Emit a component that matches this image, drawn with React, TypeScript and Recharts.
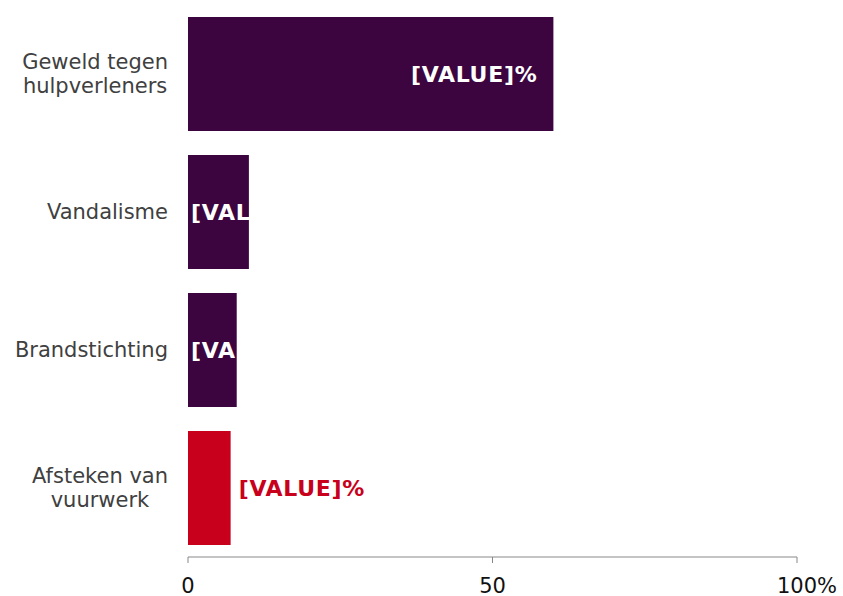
import React from 'react'
import { BarChart, Bar, XAxis, YAxis, Cell, LabelList } from 'recharts'

const categories = ['Geweld tegen hulpverleners', 'Vandalisme', 'Brandstichting', 'Afsteken van vuurwerk']
const values = [60, 10, 8, 7]
const valueLabels = ['[VALUE]%', '[VALUE]%', '[VALUE]%', '[VALUE]%']
const highlighted = [false, false, false, true]
const xTicks = [0, 50, 100]

const FONT = "'DejaVu Sans', Verdana, sans-serif"
const PURPLE = '#3d053f'
const RED = '#c8001b'

const data = categories.map((name, i) => ({
  name,
  value: values[i],
  label: valueLabels[i],
  hl: highlighted[i],
}))

let ctx: CanvasRenderingContext2D | null = null
function measure(text: string, font: string) {
  if (!ctx) ctx = document.createElement('canvas').getContext('2d')
  if (!ctx) return text.length * 10
  ctx.font = font
  return ctx.measureText(text).width
}

function wrap(text: string, max = 13) {
  const words = text.split(' ')
  const lines: string[] = []
  let cur = ''
  words.forEach((w) => {
    if (cur && (cur + ' ' + w).length > max) {
      lines.push(cur)
      cur = w
    } else {
      cur = cur ? cur + ' ' + w : w
    }
  })
  if (cur) lines.push(cur)
  return lines
}

function CategoryTick(props: any) {
  const { x, y, payload } = props
  const lines = wrap(payload.value)
  const font = `21px ${FONT}`
  const widest = Math.max(...lines.map((l) => measure(l, font)))
  const right = x - 12
  const cx = right - widest / 2
  const lh = 24.5
  const top = y - ((lines.length - 1) * lh) / 2
  return (
    <text fontFamily={FONT} fontSize={21} fill="#404040" textAnchor="middle">
      {lines.map((l, i) => (
        <tspan key={i} x={cx} y={top + i * lh} dominantBaseline="central">
          {l}
        </tspan>
      ))}
    </text>
  )
}

function ValueTick(props: any) {
  const { x, y, payload, index } = props
  const isLast = index === xTicks.length - 1
  const num = String(payload.value)
  const font = `21px ${FONT}`
  const w = measure(num, font)
  return (
    <text
      x={x - w / 2}
      y={y + 28}
      fontFamily={FONT}
      fontSize={21}
      fill="#111"
      textAnchor="start"
    >
      {isLast ? num + '%' : num}
    </text>
  )
}

function BarLabel(props: any) {
  const { x, y, width, height, value, index } = props
  const hl = highlighted[index]
  const font = `bold 22px ${FONT}`
  const tw = measure(value, font) + 7 * 0.7
  const cy = y + height / 2
  if (hl) {
    return (
      <text x={x + width + 8} y={cy} fontFamily={FONT} fontSize={22} fontWeight="bold"
        letterSpacing={0.7} fill={RED} dominantBaseline="central" textAnchor="start">
        {value}
      </text>
    )
  }
  const fits = tw + 19 < width
  const id = `clip-bar-${index}`
  return (
    <g>
      <defs>
        <clipPath id={id}>
          <rect x={x} y={y} width={width} height={height} />
        </clipPath>
      </defs>
      <text
        x={fits ? x + width - 16 : x + 3}
        y={cy}
        clipPath={`url(#${id})`}
        fontFamily={FONT}
        fontSize={22}
        fontWeight="bold"
        letterSpacing={0.7}
        fill="#fff"
        dominantBaseline="central"
        textAnchor={fits ? 'end' : 'start'}
      >
        {value}
      </text>
    </g>
  )
}

export default function App() {
  return (
    <div style={{ position: 'absolute', left: 0, top: 0, background: '#fff' }}>
      <BarChart
        width={843}
        height={596}
        data={data}
        layout="vertical"
        margin={{ top: 5, right: 46, bottom: 0, left: 0 }}
      >
        <XAxis
          type="number"
          domain={[0, 100]}
          ticks={xTicks}
          height={39}
          stroke="#888"
          tickSize={6}
          tick={<ValueTick />}
          interval={0}
        />
        <YAxis
          type="category"
          dataKey="name"
          width={188}
          axisLine={false}
          tickLine={false}
          tick={<CategoryTick />}
          interval={0}
        />
        <Bar dataKey="value" barSize={114} isAnimationActive={false}>
          {data.map((d, i) => (
            <Cell key={i} fill={d.hl ? RED : PURPLE} />
          ))}
          <LabelList dataKey="label" content={<BarLabel />} />
        </Bar>
      </BarChart>
    </div>
  )
}
